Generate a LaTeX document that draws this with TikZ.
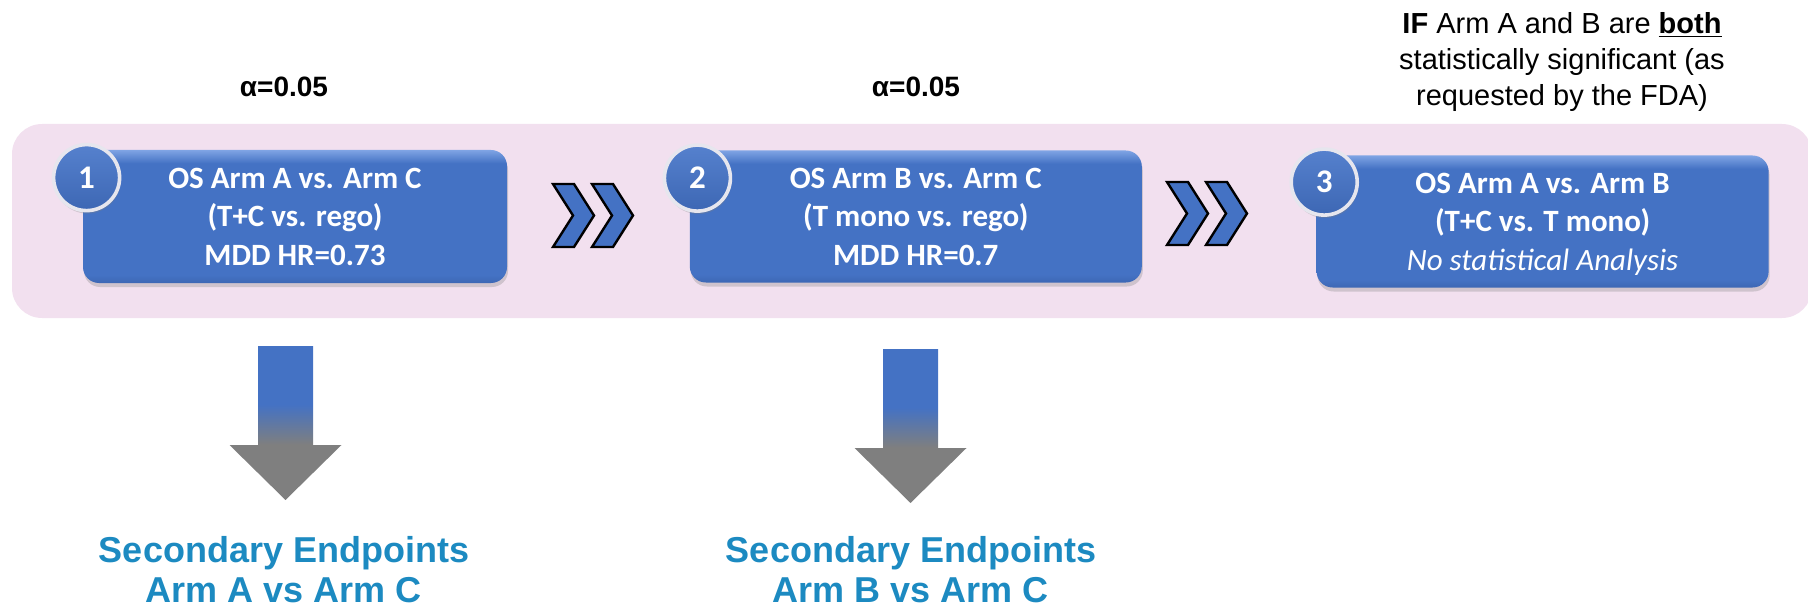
\documentclass[tikz,border=0pt]{standalone}
\usepackage{fontspec}
\setmainfont{Liberation Sans}
\newfontfamily\calfont{Carlito}
\usepackage{tikz}
\usetikzlibrary{positioning,shadows,calc}
\definecolor{band}{HTML}{F2E0EF}
\definecolor{armblue}{HTML}{4472C4}
\definecolor{armhigh}{HTML}{7FA4E4}
\definecolor{armlow}{HTML}{3D67B4}
\definecolor{rim}{HTML}{E6E6EE}
\definecolor{headgray}{HTML}{7F7F7F}
\definecolor{secblue}{HTML}{1C8AC1}
\pgfdeclareverticalshading{bevel}{100bp}{color(0bp)=(armlow); color(25bp)=(armlow);
  color(28bp)=(armblue); color(70bp)=(armblue); color(75bp)=(armhigh); color(100bp)=(armhigh)}
\pgfdeclareverticalshading{fadedown}{100bp}{color(0bp)=(headgray); color(43bp)=(headgray);
  color(56bp)=(armblue); color(100bp)=(armblue)}
\tikzset{
  armbox/.style={rounded corners=8pt,shading=bevel,inner sep=0pt,align=center,
    minimum width=226pt,minimum height=66pt,text=white,text depth=0pt,
    font=\calfont\bfseries\fontsize{15.5}{19.25}\selectfont,
    drop shadow={opacity=0.3,shadow xshift=0.5pt,shadow yshift=-2pt}},
  numdot/.style={circle,minimum size=33pt,inner sep=0pt,draw=rim,line width=1.8pt,
    top color=armblue!70!armhigh,bottom color=armlow,text=white,
    font=\calfont\bfseries\fontsize{16.5}{18}\selectfont,
    drop shadow={opacity=0.3,shadow xshift=0.5pt,shadow yshift=-1.5pt}},
  alphalbl/.style={anchor=base,inner sep=0pt,font=\bfseries\fontsize{14}{16}\selectfont},
  condtext/.style={align=center,inner sep=0pt,font=\fontsize{14.5}{18}\selectfont},
  sectext/.style={align=center,inner sep=0pt,text=secblue,
    font=\bfseries\fontsize{18}{20}\selectfont},
  chevrons/.pic={
    \foreach \dx in {0,39}
      \filldraw[fill=armblue,draw=black,line width=1.2pt,line join=miter]
        (\dx,0) -- ++(21,0) -- ++(20,31.5) -- ++(-20,31.5) -- ++(-21,0) -- ++(20,-31.5) -- cycle;
  },
  downarrow/.pic={
    \path[shading=fadedown] (-27.5,0) -- (27.5,0) -- (27.5,99) -- (56,99) -- (0,154)
      -- (-56,99) -- (-27.5,99) -- cycle;
  }
}

\begin{document}
\begin{tikzpicture}[x=0.5pt,y=-0.5pt]
  \useasboundingbox (0,0) rectangle (1808,609);
  \fill[band,rounded corners=15pt] (12,124) rectangle (1812,318);
  \node[alphalbl] (alpha1) at (284,97) {α=0.05};
  \node[alphalbl] (alpha2) at (916,97) {α=0.05};
  \node[condtext] (cond) at (1562,62) {\textbf{IF} Arm A and B are \underline{\textbf{both}}\\statistically significant (as\\requested by the FDA)};
  \node[armbox,minimum width=212pt,minimum height=66.5pt] (t1) at (295,216.5) {OS Arm A vs. Arm C\\(T+C vs. rego)\\MDD HR=0.73};
  \node[armbox,right=91pt of t1] (t2) {OS Arm B vs. Arm C\\(T mono vs. rego)\\MDD HR=0.7};
  \node[armbox,right=87pt of t2,yshift=-2.5pt] (t3) {OS Arm A vs. Arm B\\(T+C vs. T mono)\\{\mdseries\itshape No statistical Analysis}};
  \node[numdot] (n1) at ([shift={(4,28)}]t1.north west) {1};
  \node[numdot] (n2) at ([shift={(8,28)}]t2.north west) {2};
  \node[numdot] (n3) at ([shift={(8,27)}]t3.north west) {3};
  \pic at (553,184) {chevrons};
  \pic at (1167,182) {chevrons};
  \pic at (285.5,346) {downarrow};
  \pic at (910.5,349) {downarrow};
  \node[sectext] (sec1) at (284,570) {Secondary Endpoints\\Arm A vs Arm C};
  \node[sectext] (sec2) at (911,570) {Secondary Endpoints\\Arm B vs Arm C};
\end{tikzpicture}
\end{document}
